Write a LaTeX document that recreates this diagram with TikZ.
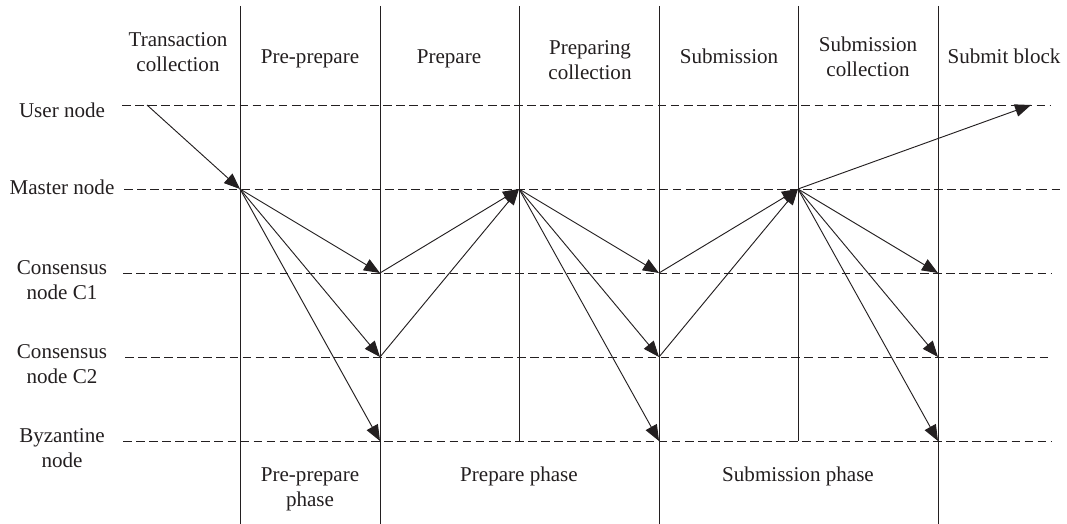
\documentclass[tikz,border=0pt]{standalone}
\usepackage{fontspec}
\setmainfont{Liberation Serif}
\usetikzlibrary{arrows.meta}
\definecolor{ink}{RGB}{35,31,32}
\begin{document}
\begin{tikzpicture}[x=0.75pt,y=-0.75pt,
  lane/.style={draw=ink, dash pattern=on 6.5pt off 3.3pt, line width=0.7pt},
  divider/.style={draw=ink, line width=0.7pt},
  msg/.style={draw=ink, line width=0.7pt, -{Triangle[length=12pt,width=9.5pt]}},
  lbl/.style={font=\fontsize{15.8}{18.75}\selectfont, text=ink, align=center, inner sep=0pt, anchor=base}]
\useasboundingbox (0,0) rectangle (1067,524);

% lanes (rows)
\coordinate (Ul) at (122,105);  \coordinate (Ur) at (1051,105);
\coordinate (Ml) at (124,189);  \coordinate (Mr) at (1062,189);
\coordinate (Al) at (123,273);  \coordinate (Ar) at (1052,273);
\coordinate (Bl) at (125,357);  \coordinate (Br) at (1052,357);
\coordinate (Zl) at (123,441);  \coordinate (Zr) at (1052,441);
\draw[lane] (Ul) -- (Ur);
\draw[lane] (Ml) -- (Mr);
\draw[lane] (Al) -- (Ar);
\draw[lane] (Bl) -- (Br);
\draw[lane] (Zl) -- (Zr);

% dividers (columns)
\coordinate (V1t) at (240,6); \coordinate (V1b) at (240,524);
\coordinate (V2t) at (380,6); \coordinate (V2b) at (380,524);
\coordinate (V3t) at (519,6); \coordinate (V3b) at (519,441);
\coordinate (V4t) at (659,6); \coordinate (V4b) at (659,524);
\coordinate (V5t) at (798,6); \coordinate (V5b) at (798,441);
\coordinate (V6t) at (938,6); \coordinate (V6b) at (938,524);
\draw[divider] (V1t) -- (V1b);
\draw[divider] (V2t) -- (V2b);
\draw[divider] (V3t) -- (V3b);
\draw[divider] (V4t) -- (V4b);
\draw[divider] (V5t) -- (V5b);
\draw[divider] (V6t) -- (V6b);

% message points
\coordinate (U0) at (147,105);
\coordinate (M1) at (240,189);
\coordinate (A2) at (380,273); \coordinate (B2) at (380,357); \coordinate (Z2) at (380,441);
\coordinate (M3) at (519,189);
\coordinate (A4) at (659,273); \coordinate (B4) at (659,357); \coordinate (Z4) at (659,441);
\coordinate (M5) at (798,189);
\coordinate (A6) at (938,273); \coordinate (B6) at (938,357); \coordinate (Z6) at (938,441);
\coordinate (U7) at (1031,105);

% messages
\draw[msg] (U0) -- (M1);
\draw[msg] (M1) -- (A2);
\draw[msg] (M1) -- (B2);
\draw[msg] (M1) -- (Z2);
\draw[msg] (A2) -- (M3);
\draw[msg] (B2) -- (M3);
\draw[msg] (M3) -- (A4);
\draw[msg] (M3) -- (B4);
\draw[msg] (M3) -- (Z4);
\draw[msg] (A4) -- (M5);
\draw[msg] (B4) -- (M5);
\draw[msg] (M5) -- (A6);
\draw[msg] (M5) -- (B6);
\draw[msg] (M5) -- (Z6);
\draw[msg] (M5) -- (U7);

% top labels (base = baseline of last line)
\node[lbl] (t1) at (178,72) {Transaction\\collection};
\node[lbl] (t2) at (310,64) {Pre-prepare};
\node[lbl] (t3) at (449,64) {Prepare};
\node[lbl] (t4) at (590,80) {Preparing\\collection};
\node[lbl] (t5) at (729,64) {Submission};
\node[lbl] (t6) at (868,77) {Submission\\collection};
\node[lbl] (t7) at (1004,64) {Submit block};

% row labels
\node[lbl] (r1) at (62,118) {User node};
\node[lbl] (r2) at (62,195) {Master node};
\node[lbl] (r3) at (62,299) {Consensus\\node C1};
\node[lbl] (r4) at (62,383) {Consensus\\node C2};
\node[lbl] (r5) at (62,467) {Byzantine\\node};

% bottom labels
\node[lbl] (p1) at (310,506) {Pre-prepare\\phase};
\node[lbl] (p2) at (519,481) {Prepare phase};
\node[lbl] (p3) at (798,481) {Submission phase};
\end{tikzpicture}
\end{document}
